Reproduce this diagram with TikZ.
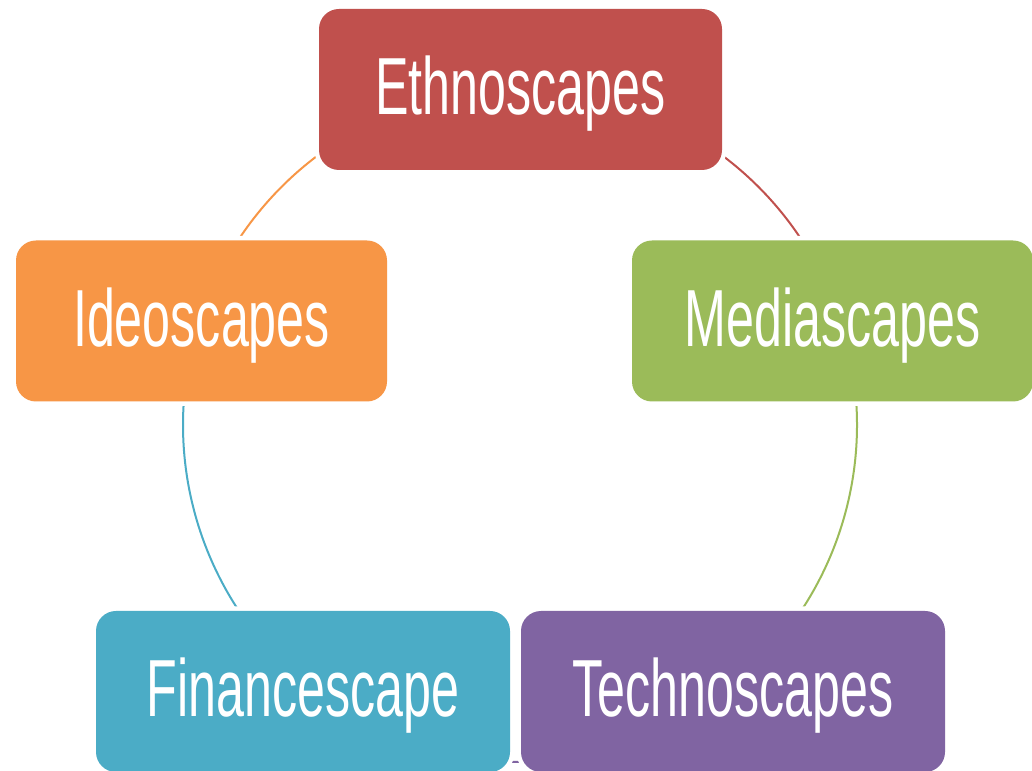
\documentclass[tikz,border=0pt]{standalone}
\usepackage{fontspec}
\usetikzlibrary{calc}
\newfontfamily\condfont[FakeStretch=0.62]{Liberation Sans}
\definecolor{cE}{HTML}{C0504D}
\definecolor{cM}{HTML}{9BBB59}
\definecolor{cT}{HTML}{8064A2}
\definecolor{cF}{HTML}{4BACC6}
\definecolor{cI}{HTML}{F79646}
\tikzset{
  scapebox/.style={rectangle, rounded corners=20pt, fill=#1, draw=none,
    preaction={draw=white, line width=9pt},
    text=white, font=\condfont\fontsize{81}{90}\selectfont,
    text height=51pt, text depth=0pt, inner sep=0pt, minimum height=161pt},
  ring/.style={draw=#1, line width=2pt}
}
\begin{document}
\begin{tikzpicture}[x=1pt,y=1pt]
\useasboundingbox (0,0) rectangle (1032,770);
\def\R{337}
\coordinate (O) at (520,345);
% points on the ring at each box's angle
\coordinate (pE) at ($(O)+(90:\R)$);
\coordinate (pM) at ($(O)+(18.4:\R)$);
\coordinate (pT) at ($(O)+(-51.4:\R)$);
\coordinate (pF) at ($(O)+(-129.2:\R)$);
\coordinate (pI) at ($(O)+(161.9:\R)$);
% connectors
\draw[ring=cE] (pE) arc[start angle=90, end angle=18.4, radius=\R];
\draw[ring=cM] (pM) arc[start angle=18.4, end angle=-51.4, radius=\R];
\draw[ring=cT] (pT) arc[start angle=-51.4, end angle=-129.2, radius=\R];
\draw[ring=cF] (pF) arc[start angle=-129.2, end angle=-198.1, radius=\R];
\draw[ring=cI] (pI) arc[start angle=161.9, end angle=90, radius=\R];
% boxes
\node[scapebox=cE, minimum width=403pt] (E) at (520.5,680.5) {Ethnoscapes};
\node[scapebox=cI, minimum width=371pt] (I) at (201.5,449) {Ideoscapes};
\node[scapebox=cM, minimum width=401pt] (M) at (832.5,449) {Mediascapes};
\node[scapebox=cF, minimum width=414pt] (F) at (303,78.5) {Financescape};
\node[scapebox=cT, minimum width=424pt] (T) at (733,78.5) {Technoscapes};
\end{tikzpicture}
\end{document}
